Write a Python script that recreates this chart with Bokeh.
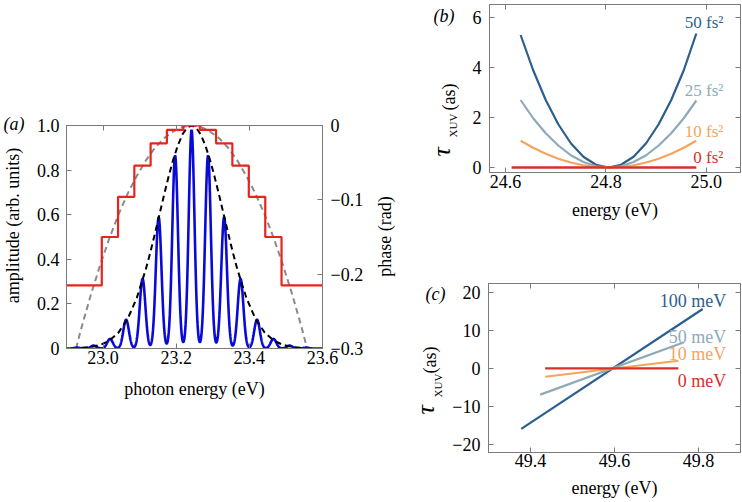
import math
import numpy as np
from bokeh.plotting import figure
from bokeh.models import (Range1d, LinearAxis, Label, FixedTicker, Title,
                          CustomJSTickFormatter, PrintfTickFormatter)
from bokeh.layouts import row, column
from bokeh.embed import file_html
from bokeh.resources import INLINE
from bokeh.core.properties import value

FONT = "Liberation Serif"
GRAY = "#7a7a7a"

# ---------------- data: panel (a) ----------------
peak_energy = [22.929, 22.974, 23.019, 23.063, 23.108, 23.152, 23.197, 23.242,
               23.287, 23.331, 23.376, 23.421, 23.466, 23.510, 23.555]
peak_amplitude = [0.004, 0.013, 0.043, 0.129, 0.312, 0.589, 0.865, 0.980,
                  0.865, 0.589, 0.312, 0.129, 0.043, 0.013, 0.004]
peak_phase = [-0.215, -0.215, -0.150, -0.096, -0.054, -0.024, -0.006, 0.000,
              -0.006, -0.024, -0.054, -0.096, -0.150, -0.215, -0.215]
peak_width = 0.0078

env_energy = [22.942, 22.967, 22.992, 23.017, 23.042, 23.067, 23.092, 23.117,
              23.1295, 23.142, 23.1545, 23.167, 23.1795, 23.192, 23.2045, 23.217,
              23.2295, 23.242, 23.2545, 23.267, 23.2795, 23.292, 23.3045, 23.317,
              23.3295, 23.342, 23.3545, 23.367, 23.392, 23.417, 23.442, 23.467,
              23.492, 23.517, 23.542]
env_amplitude = [0.003, 0.007, 0.016, 0.035, 0.071, 0.132, 0.226, 0.356,
                 0.433, 0.517, 0.603, 0.690, 0.773, 0.848, 0.911, 0.960,
                 0.990, 1.000, 0.990, 0.960, 0.911, 0.848, 0.773, 0.690,
                 0.603, 0.517, 0.433, 0.356, 0.226, 0.132, 0.071, 0.035,
                 0.016, 0.007, 0.003]

par_energy = [22.926, 22.942, 22.967, 22.992, 23.017, 23.042, 23.067, 23.092,
              23.117, 23.142, 23.167, 23.192, 23.217, 23.242, 23.267, 23.292,
              23.317, 23.342, 23.367, 23.392, 23.417, 23.442, 23.467, 23.492,
              23.517, 23.542, 23.558]
par_phase = [-0.300, -0.270, -0.227, -0.188, -0.152, -0.120, -0.092, -0.068,
             -0.047, -0.030, -0.017, -0.008, -0.002, 0.000, -0.002, -0.008,
             -0.017, -0.030, -0.047, -0.068, -0.092, -0.120, -0.152, -0.188,
             -0.227, -0.270, -0.300]

a_xticks = [23.0, 23.2, 23.4, 23.6]
a_yticks = [0, 0.2, 0.4, 0.6, 0.8, 1.0]
a_phase_ticks = [-0.3, -0.2, -0.1, 0.0]

# ---------------- data: panel (b) ----------------
b_energy = [24.630, 24.655, 24.680, 24.705, 24.730, 24.755, 24.780, 24.805,
            24.830, 24.855, 24.880, 24.905, 24.930, 24.955, 24.980]
b_delay_50 = [5.30, 3.89, 2.70, 1.73, 0.97, 0.43, 0.11, 0.00,
              0.11, 0.43, 0.97, 1.73, 2.70, 3.89, 5.36]
b_delay_25 = [2.70, 1.97, 1.37, 0.88, 0.49, 0.22, 0.05, 0.00,
              0.05, 0.22, 0.49, 0.88, 1.37, 1.97, 2.68]
b_delay_10 = [1.07, 0.79, 0.55, 0.35, 0.20, 0.09, 0.02, 0.00,
              0.02, 0.09, 0.20, 0.35, 0.55, 0.79, 1.07]
b_energy_0 = [24.612, 24.980]
b_delay_0 = [0.0, 0.0]
b_names = ["50 fs\u00b2", "25 fs\u00b2", "10 fs\u00b2", "0 fs\u00b2"]
b_xticks = [24.6, 24.8, 25.0]
b_yticks = [0, 2, 4, 6]

# ---------------- data: panel (c) ----------------
c_energy_100 = [49.378, 49.810]
c_delay_100 = [-15.9, 15.6]
c_energy_50 = [49.423, 49.764]
c_delay_50 = [-6.9, 6.8]
c_energy_10 = [49.435, 49.752]
c_delay_10 = [-2.2, 2.0]
c_energy_0 = [49.435, 49.752]
c_delay_0 = [0.0, 0.0]
c_names = ["100 meV", "50 meV", "10 meV", "0 meV"]
c_xticks = [49.4, 49.6, 49.8]
c_yticks = [-20, -10, 0, 10, 20]

COL_DARK = "#2b5f8e"
COL_GREY = "#8eaab8"
COL_ORNG = "#f5a45c"
COL_RED = "#d6302a"

MINUS_FMT = ("if (Math.abs(tick) < 1e-9) { return '0'; } "
             "var s = Math.abs(tick).toFixed(%d); "
             "return (tick < 0 ? '\\u2212' : '') + s;")


def style_axis(ax, standoff=6, label_standoff=8):
    ax.major_tick_in = 5
    ax.major_tick_out = 0
    ax.minor_tick_line_color = None
    ax.minor_tick_in = 0
    ax.minor_tick_out = 0
    ax.axis_line_color = GRAY
    ax.major_tick_line_color = GRAY
    ax.major_label_text_font = FONT
    ax.major_label_text_font_size = "18px"
    ax.major_label_text_color = "black"
    ax.major_label_standoff = standoff
    ax.axis_label_text_font = FONT
    ax.axis_label_text_font_size = "18px"
    ax.axis_label_text_font_style = "normal"
    ax.axis_label_text_color = "black"
    ax.axis_label_standoff = label_standoff


def mirror(p, side, ticks, **kw):
    ax = LinearAxis(ticker=FixedTicker(ticks=ticks),
                    formatter=CustomJSTickFormatter(code="return '';"), **kw)
    style_axis(ax, 0, 0)
    ax.major_label_text_font_size = "0px"
    p.add_layout(ax, side)


def label(p, x, y, text, size="18px", color="black", align="left"):
    p.add_layout(Label(x=x, y=y, text=text, text_font=FONT, text_font_size=size,
                       text_color=color, text_align=align, text_baseline="middle"))


def base(p):
    p.xgrid.visible = False
    p.ygrid.visible = False
    p.outline_line_color = GRAY
    p.background_fill_color = "white"
    p.border_fill_color = "white"


def strip(x0, x1, top, bottom, h):
    # a text-only plot; its frame is aligned with the neighbouring panel's
    # frame, so its ranges are expressed in page pixels
    s = figure(width=x1 - x0, height=h, title=None, output_backend="svg",
               toolbar_location=None, x_range=Range1d(x0, x1),
               y_range=Range1d(bottom, top), x_axis_type=None, y_axis_type=None,
               min_border_left=0, min_border_right=0, min_border_top=0,
               min_border_bottom=0)
    s.outline_line_color = None
    s.background_fill_color = "white"
    s.border_fill_color = "white"
    return s


def stext(s, x, y, text, size="18px", align="left", angle=0.0, style="normal"):
    s.text(x=[x], y=[y], text=[text], angle=angle, text_font=value(FONT),
           text_font_size=value(size), text_font_style=value(style),
           text_align=value(align), text_baseline=value("middle"),
           text_color="black")


# ================= panel (a) =================
pa = figure(width=336, height=500, title=None, output_backend="svg",
            toolbar_location=None, x_range=Range1d(22.9, 23.6),
            y_range=Range1d(0, 1.0), min_border_left=36, min_border_right=44,
            min_border_top=125, min_border_bottom=152)
base(pa)
pa.extra_y_ranges = {"phase": Range1d(-0.3, 0.0)}

xa = pa.xaxis[0]
xa.ticker = FixedTicker(ticks=a_xticks)
xa.formatter = PrintfTickFormatter(format="%.1f")
style_axis(xa, 2, 12)
xa.axis_label = "photon energy (eV)"

ya = pa.yaxis[0]
ya.ticker = FixedTicker(ticks=a_yticks)
ya.formatter = CustomJSTickFormatter(code=MINUS_FMT % 1)
style_axis(ya, 7, 0)

ax_r = LinearAxis(y_range_name="phase", ticker=FixedTicker(ticks=a_phase_ticks),
                  formatter=CustomJSTickFormatter(code=MINUS_FMT % 1))
style_axis(ax_r, 8, 0)
pa.add_layout(ax_r, "right")
mirror(pa, "above", a_xticks)

x_grid = np.linspace(22.9, 23.6, 1401)
blue = np.zeros_like(x_grid)
for c, h in zip(peak_energy, peak_amplitude):
    blue += h * np.exp(-((x_grid - c) ** 2) / (2 * peak_width ** 2))

# staircase phase: constant around each harmonic, steps halfway between
st_x, st_y = [22.9], [peak_phase[0]]
for i in range(len(peak_energy) - 1):
    mid = 0.5 * (peak_energy[i] + peak_energy[i + 1])
    st_x += [mid, mid]
    st_y += [peak_phase[i], peak_phase[i + 1]]
st_x.append(23.6)
st_y.append(peak_phase[-1])

pa.line(par_energy, par_phase, y_range_name="phase", line_color="#8a8a8a",
        line_width=2, line_dash="6 4")
pa.line(x_grid, blue, line_color="#0a0ad8", line_width=2.6)
pa.line(env_energy, env_amplitude, line_color="black", line_width=2,
        line_dash="6 4")
pa.line(st_x, st_y, y_range_name="phase", line_color="#e8231c", line_width=2.2)

sa = strip(0, 30, 125, 348, 500)
stext(sa, 12, 225, "amplitude (arb. units)", align="center", angle=math.pi / 2)
ta = Title(text="(a)", align="left", offset=3, vertical_align="bottom",
           text_font=FONT, text_font_size="18px", text_font_style="italic",
           text_color="black")
try:
    ta.standoff = -16
except Exception:
    ta.standoff = 0
sa.add_layout(ta, "above")

sr = strip(366, 408, 125, 348, 500)
stext(sr, 384, 236, "phase (rad)", align="center", angle=math.pi / 2)

# ================= panel (b) =================
pb = figure(width=272, height=250, title=None, output_backend="svg",
            toolbar_location=None, x_range=Range1d(24.568, 25.068),
            y_range=Range1d(-0.2, 6.52), min_border_left=17, min_border_right=1,
            min_border_top=4, min_border_bottom=78)
base(pb)
xb = pb.xaxis[0]
xb.ticker = FixedTicker(ticks=b_xticks)
xb.formatter = PrintfTickFormatter(format="%.1f")
style_axis(xb, 2, 9)
xb.axis_label = "energy (eV)"
yb = pb.yaxis[0]
yb.ticker = FixedTicker(ticks=b_yticks)
yb.formatter = CustomJSTickFormatter(code=MINUS_FMT % 0)
style_axis(yb, 8, 0)
mirror(pb, "above", b_xticks)
mirror(pb, "right", b_yticks)

pb.line(b_energy, b_delay_50, line_color=COL_DARK, line_width=2.2)
pb.line(b_energy, b_delay_25, line_color=COL_GREY, line_width=2.2)
pb.line(b_energy, b_delay_10, line_color=COL_ORNG, line_width=2.2)
pb.line(b_energy_0, b_delay_0, line_color=COL_RED, line_width=2.4)

for name, yv, col in zip(b_names, [5.8, 3.08, 1.44, 0.4],
                         [COL_DARK, COL_GREY, COL_ORNG, COL_RED]):
    label(pb, 25.034, yv, name, size="17px", color=col, align="right")

sb = strip(408, 469, 4, 172, 250)
stext(sb, 433, 15, "(b)", style="italic")
stext(sb, 441, 156, "\u03c4", size="26px", angle=math.pi / 2, style="italic")
stext(sb, 452, 137, "XUV", size="11px", angle=math.pi / 2)
stext(sb, 448, 110, "(as)", size="18px", angle=math.pi / 2)

# ================= panel (c) =================
pc = figure(width=292, height=251, title=None, output_backend="svg",
            toolbar_location=None, x_range=Range1d(49.3, 49.9),
            y_range=Range1d(-22.1, 22.3), min_border_left=37, min_border_right=1,
            min_border_top=33, min_border_bottom=49)
base(pc)
xc = pc.xaxis[0]
xc.ticker = FixedTicker(ticks=c_xticks)
xc.formatter = PrintfTickFormatter(format="%.1f")
style_axis(xc, 1, 8)
xc.axis_label = "energy (eV)"
yc = pc.yaxis[0]
yc.ticker = FixedTicker(ticks=c_yticks)
yc.formatter = CustomJSTickFormatter(code=MINUS_FMT % 0)
style_axis(yc, 8, 0)
mirror(pc, "above", c_xticks)
mirror(pc, "right", c_yticks)

pc.line(c_energy_100, c_delay_100, line_color=COL_DARK, line_width=2.2)
pc.line(c_energy_50, c_delay_50, line_color=COL_GREY, line_width=2.2)
pc.line(c_energy_10, c_delay_10, line_color=COL_ORNG, line_width=2.2)
pc.line(c_energy_0, c_delay_0, line_color=COL_RED, line_width=2.4)

for name, yv, col in zip(c_names, [17.8, 8.2, 3.7, -3.2],
                         [COL_DARK, COL_GREY, COL_ORNG, COL_RED]):
    label(pc, 49.866, yv, name, size="18px", color=col, align="right")

sc = strip(408, 449, 283, 452, 251)
stext(sc, 425, 293, "(c)", style="italic")
stext(sc, 425, 414, "\u03c4", size="26px", angle=math.pi / 2, style="italic")
stext(sc, 437, 397, "XUV", size="11px", angle=math.pi / 2)
stext(sc, 429, 373, "(as)", size="18px", angle=math.pi / 2)

layout = row(sa, pa, sr, column(row(sb, pb), row(sc, pc)))
open("out.html", "w").write(file_html(layout, INLINE))
